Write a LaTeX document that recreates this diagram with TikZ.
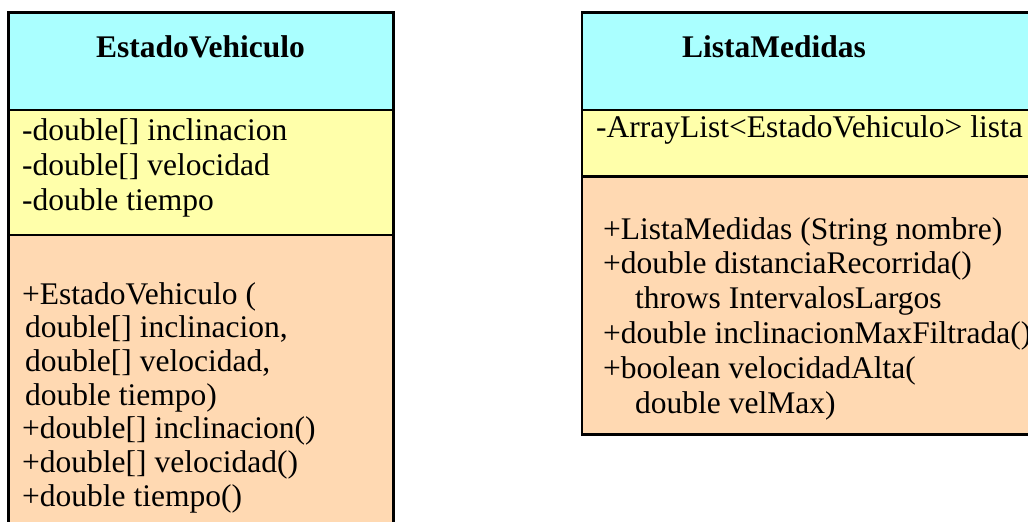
\documentclass[tikz,border=0pt]{standalone}
\usepackage{fontspec}
\setmainfont{Liberation Serif}
\usetikzlibrary{positioning}
\definecolor{chead}{RGB}{170,255,255}
\definecolor{cattr}{RGB}{255,255,170}
\definecolor{cmeth}{RGB}{255,217,178}

\begin{document}
\begin{tikzpicture}[x=1pt,y=-1pt,
part/.style={draw,line width=2.4pt,anchor=north west,inner sep=0pt,outer sep=0pt},
head/.style={part,fill=chead},
attr/.style={part,fill=cattr},
meth/.style={part,fill=cmeth},
title/.style={font=\fontsize{31.5}{35}\selectfont\bfseries,inner sep=0pt,anchor=base},
member/.style={font=\fontsize{31.5}{35}\selectfont,inner sep=0pt,anchor=base west}]
\useasboundingbox (0,0) rectangle (1028,522);
\clip (0,0) rectangle (1028,522);
% class EstadoVehiculo
\node[head,minimum width=385pt,minimum height=97.5pt] (ev-head) at (8.5,12.5) {};
\node[attr,minimum width=385pt,minimum height=125pt] (ev-attr) at (8.5,110) {};
\node[meth,minimum width=385pt,minimum height=330pt] (ev-meth) at (8.5,235) {};
\node[title] (ev-name) at (200.5,57) {EstadoVehiculo};
\node[member] (ev-a1) at (22,140) {-double[] inclinacion};
\node[member] (ev-a2) at (22,175) {-double[] velocidad};
\node[member] (ev-a3) at (22,210) {-double tiempo};
\node[member] (ev-m1) at (22,304) {+EstadoVehiculo (};
\node[member] (ev-m2) at (25,337.7) {double[] inclinacion,};
\node[member] (ev-m3) at (25,371.4) {double[] velocidad,};
\node[member] (ev-m4) at (25,405.1) {double tiempo)};
\node[member] (ev-m5) at (22,438.8) {+double[] inclinacion()};
\node[member] (ev-m6) at (22,472.5) {+double[] velocidad()};
\node[member] (ev-m7) at (22,506.2) {+double tiempo()};
% class ListaMedidas
\node[head,minimum width=480pt,minimum height=97.5pt] (lm-head) at (582,12.5) {};
\node[attr,minimum width=480pt,minimum height=66.5pt] (lm-attr) at (582,110) {};
\node[meth,minimum width=480pt,minimum height=257.8pt] (lm-meth) at (582,176.5) {};
\node[title] (lm-name) at (774,57) {ListaMedidas};
\node[member] (lm-a1) at (596,137) {-ArrayList<EstadoVehiculo> lista};
\node[member] (lm-m1) at (603,239) {+ListaMedidas (String nombre)};
\node[member] (lm-m2) at (603,273) {+double distanciaRecorrida()};
\node[member] (lm-m3) at (635,308) {throws IntervalosLargos};
\node[member] (lm-m4) at (603,343) {+double inclinacionMaxFiltrada()};
\node[member] (lm-m5) at (603,378) {+boolean velocidadAlta(};
\node[member] (lm-m6) at (635,413) {double velMax)};
\end{tikzpicture}
\end{document}
